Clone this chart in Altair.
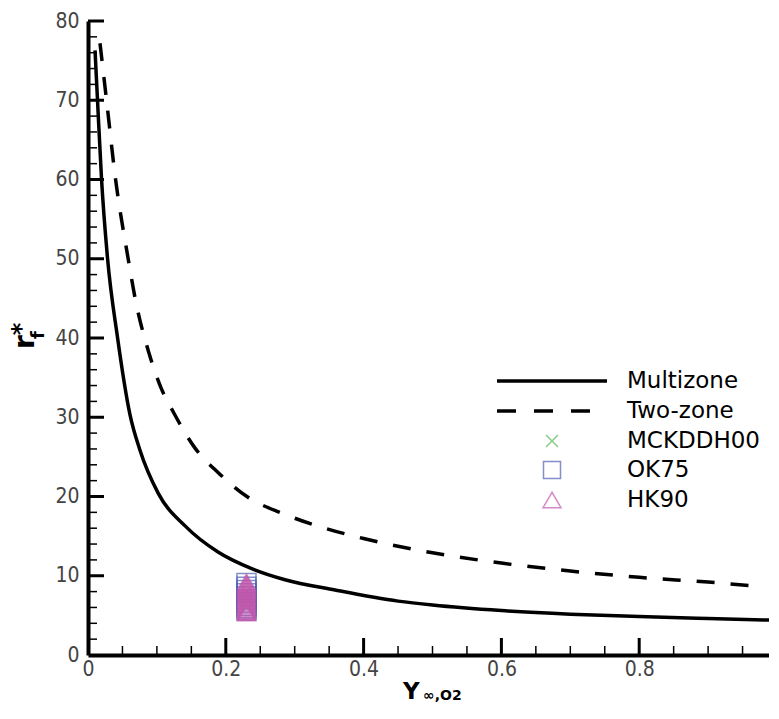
import altair as alt
import pandas as pd

# ---------------- data ----------------
multizone_x = [0.0102, 0.0138, 0.0196, 0.0283, 0.0428, 0.0610, 0.0752, 0.1020, 0.1420,
               0.1887, 0.2376, 0.2859, 0.3585, 0.45, 0.5, 0.6, 0.7, 0.8, 0.9, 0.99]
multizone_y = [76.3, 70.0, 60.1, 50.1, 40.1, 30.3, 25.9, 20.4, 16.2,
               13.0, 10.9, 9.5, 8.2, 6.8, 6.3, 5.6, 5.15, 4.85, 4.6, 4.4]

twozone_x = [0.0174, 0.0269, 0.0399, 0.0581, 0.0689, 0.0885, 0.1060, 0.1248, 0.1546,
             0.1891, 0.2322, 0.2811, 0.3440, 0.4, 0.5, 0.6, 0.7, 0.8, 0.9, 0.97]
twozone_y = [77.2, 70.0, 60.1, 50.1, 44.8, 38.1, 33.7, 30.5, 26.2,
             23.0, 19.9, 17.9, 16.0, 14.7, 12.9, 11.6, 10.6, 9.8, 9.2, 8.7]

mck_x = [0.23, 0.23, 0.23]
mck_y = [6.0, 7.0, 8.0]

ok75_x = [0.23] * 10
ok75_y = [9.1, 8.6, 8.2, 7.8, 7.4, 7.0, 6.6, 6.2, 5.9, 5.6]

hk90_x = [0.23] * 22
hk90_y = [9.2, 9.0, 8.8, 8.6, 8.4, 8.2, 8.0, 7.8, 7.6, 7.4, 7.2,
          7.0, 6.8, 6.6, 6.4, 6.2, 6.0, 5.8, 5.6, 5.5, 5.4, 5.3]

legend_labels = ["Multizone", "Two-zone", "MCKDDH00", "OK75", "HK90"]

x_labels = [0, 0.2, 0.4, 0.6, 0.8, 1.0]
y_labels = [0, 10, 20, 30, 40, 50, 60, 70, 80]
x_major = [0.2, 0.4, 0.6, 0.8, 1.0]
x_minor = [round(0.05 * i, 2) for i in range(1, 20) if i % 4 != 0]
y_major = [10, 20, 30, 40, 50, 60, 70, 80]
y_minor = [v for v in range(2, 80, 2) if v % 10 != 0]

# ---------------- layout ----------------
W, H = 689, 634
LABEL_FONT = "'Liberation Sans Narrow', 'DejaVu Sans Condensed', 'Arial Narrow', sans-serif"
TEXT_FONT = "DejaVu Sans"

xs = alt.Scale(domain=[0, 1], nice=False, zero=False)
ys = alt.Scale(domain=[0, 80], nice=False, zero=False)

AX = alt.Axis(values=x_labels, format="~g", title=None,
              grid=False, ticks=False, domainColor="black", domainWidth=4,
              labelFont=LABEL_FONT, labelFontSize=21, labelColor="#444",
              labelPadding=3, labelFlush=False)
AY = alt.Axis(values=y_labels, title=None,
              grid=False, ticks=False, domainColor="black", domainWidth=4,
              labelFont=LABEL_FONT, labelFontSize=21, labelColor="#444",
              labelPadding=9, labelFlush=False)


def X(f):
    return alt.X(f, scale=xs, axis=AX)


def Y(f):
    return alt.Y(f, scale=ys, axis=AY)


multi = alt.Chart(pd.DataFrame({"x": multizone_x, "y": multizone_y})).mark_line(
    color="black", strokeWidth=3.5, interpolate="monotone", clip=True
).encode(x=X("x:Q"), y=Y("y:Q"))

two = alt.Chart(pd.DataFrame({"x": twozone_x, "y": twozone_y})).mark_line(
    color="black", strokeWidth=3.5, strokeDash=[18, 16], interpolate="monotone", clip=True
).encode(x=X("x:Q"), y=Y("y:Q"))

cross_path = "M-1,-1L1,1M-1,1L1,-1"
GREEN, BLUE, PINK = "#55b855", "#4f5fb5", "#c257ad"

mck = alt.Chart(pd.DataFrame({"x": mck_x, "y": mck_y})).mark_point(
    shape=cross_path, size=144, color=GREEN, strokeWidth=1.5, filled=False
).encode(x=X("x:Q"), y=Y("y:Q"))

ok = alt.Chart(pd.DataFrame({"x": ok75_x, "y": ok75_y})).mark_point(
    shape="square", size=361, color=BLUE, strokeWidth=1.5, filled=False
).encode(x=X("x:Q"), y=Y("y:Q"))

hk = alt.Chart(pd.DataFrame({"x": hk90_x, "y": hk90_y})).mark_point(
    shape="triangle-up", size=320, color=PINK, strokeWidth=1.5, filled=False
).encode(x=X("x:Q"), y=Y("y:Q"))


# inward ticks
def xticks(vals, length, width):
    return alt.Chart(pd.DataFrame({"x": vals})).mark_rule(color="black", strokeWidth=width).encode(
        x=X("x:Q"), y=alt.value(H), y2=alt.value(H - length))


def yticks(vals, length, width):
    return alt.Chart(pd.DataFrame({"y": vals})).mark_rule(color="black", strokeWidth=width).encode(
        y=Y("y:Q"), x=alt.value(0), x2=alt.value(length))


ticks = [xticks(x_major, 17, 3), xticks(x_minor, 9, 1.5),
         yticks(y_major, 16, 3), yticks(y_minor, 9, 1.5)]

# legend
rows = [360, 390, 420, 449, 479]
lx0, lx1, lsym, ltext = 409, 519, 464, 539


def one(label):
    return pd.DataFrame({"label": [label]})


legend = []
legend.append(alt.Chart(one(legend_labels[0])).mark_rule(color="black", strokeWidth=3.5).encode(
    x=alt.value(lx0), x2=alt.value(lx1), y=alt.value(rows[0])))
legend.append(alt.Chart(one(legend_labels[1])).mark_rule(color="black", strokeWidth=3.5,
                                                        strokeDash=[19, 18]).encode(
    x=alt.value(lx0), x2=alt.value(lx1), y=alt.value(rows[1])))
legend.append(alt.Chart(one(legend_labels[2])).mark_point(
    shape=cross_path, size=144, color=GREEN, strokeWidth=1.5, filled=False).encode(
    x=alt.value(lsym), y=alt.value(rows[2])))
legend.append(alt.Chart(one(legend_labels[3])).mark_point(
    shape="square", size=289, color=BLUE, strokeWidth=1.5, filled=False).encode(
    x=alt.value(lsym), y=alt.value(rows[3])))
legend.append(alt.Chart(one(legend_labels[4])).mark_point(
    shape="triangle-up", size=320, color=PINK, strokeWidth=1.5, filled=False).encode(
    x=alt.value(lsym), y=alt.value(rows[4])))
for lab, ry in zip(legend_labels, rows):
    legend.append(alt.Chart(one(lab)).mark_text(
        font=TEXT_FONT, fontSize=23, align="left", baseline="middle", color="black").encode(
        x=alt.value(ltext), y=alt.value(ry), text="label:N"))


# axis titles
def txt(s, x, y, size, angle=0, align="left", baseline="alphabetic", bold=True):
    kw = dict(font=TEXT_FONT, fontSize=size, align=align, baseline=baseline, color="black",
              fontWeight="bold" if bold else "normal")
    if angle:
        kw["angle"] = angle
    return alt.Chart(one(s)).mark_text(**kw).encode(
        x=alt.value(x), y=alt.value(y), text="label:N")


titles = [
    txt("Y", 315, 678, 23),
    txt("\u221e,O2", 335, 679, 14),
    txt("r", -54, 328, 28, angle=270),
    txt("f", -44, 318, 18, angle=270),
    txt("*", -66, 308, 24, angle=270, align="center", baseline="middle"),
]

# the plot runs to the window's right edge, as in the reference; the last few
# pixels are clipped so the page does not overflow horizontally
chart = alt.layer(multi, two, *ticks, mck, ok, hk, *legend, *titles).properties(
    width=W, height=H,
    padding={"left": 80, "top": 13, "right": -8, "bottom": 54},
    autosize=alt.AutoSizeParams(type="none"),
).configure_view(stroke=None)

chart.save("out.html", embed_options={"renderer": "svg", "actions": False})
